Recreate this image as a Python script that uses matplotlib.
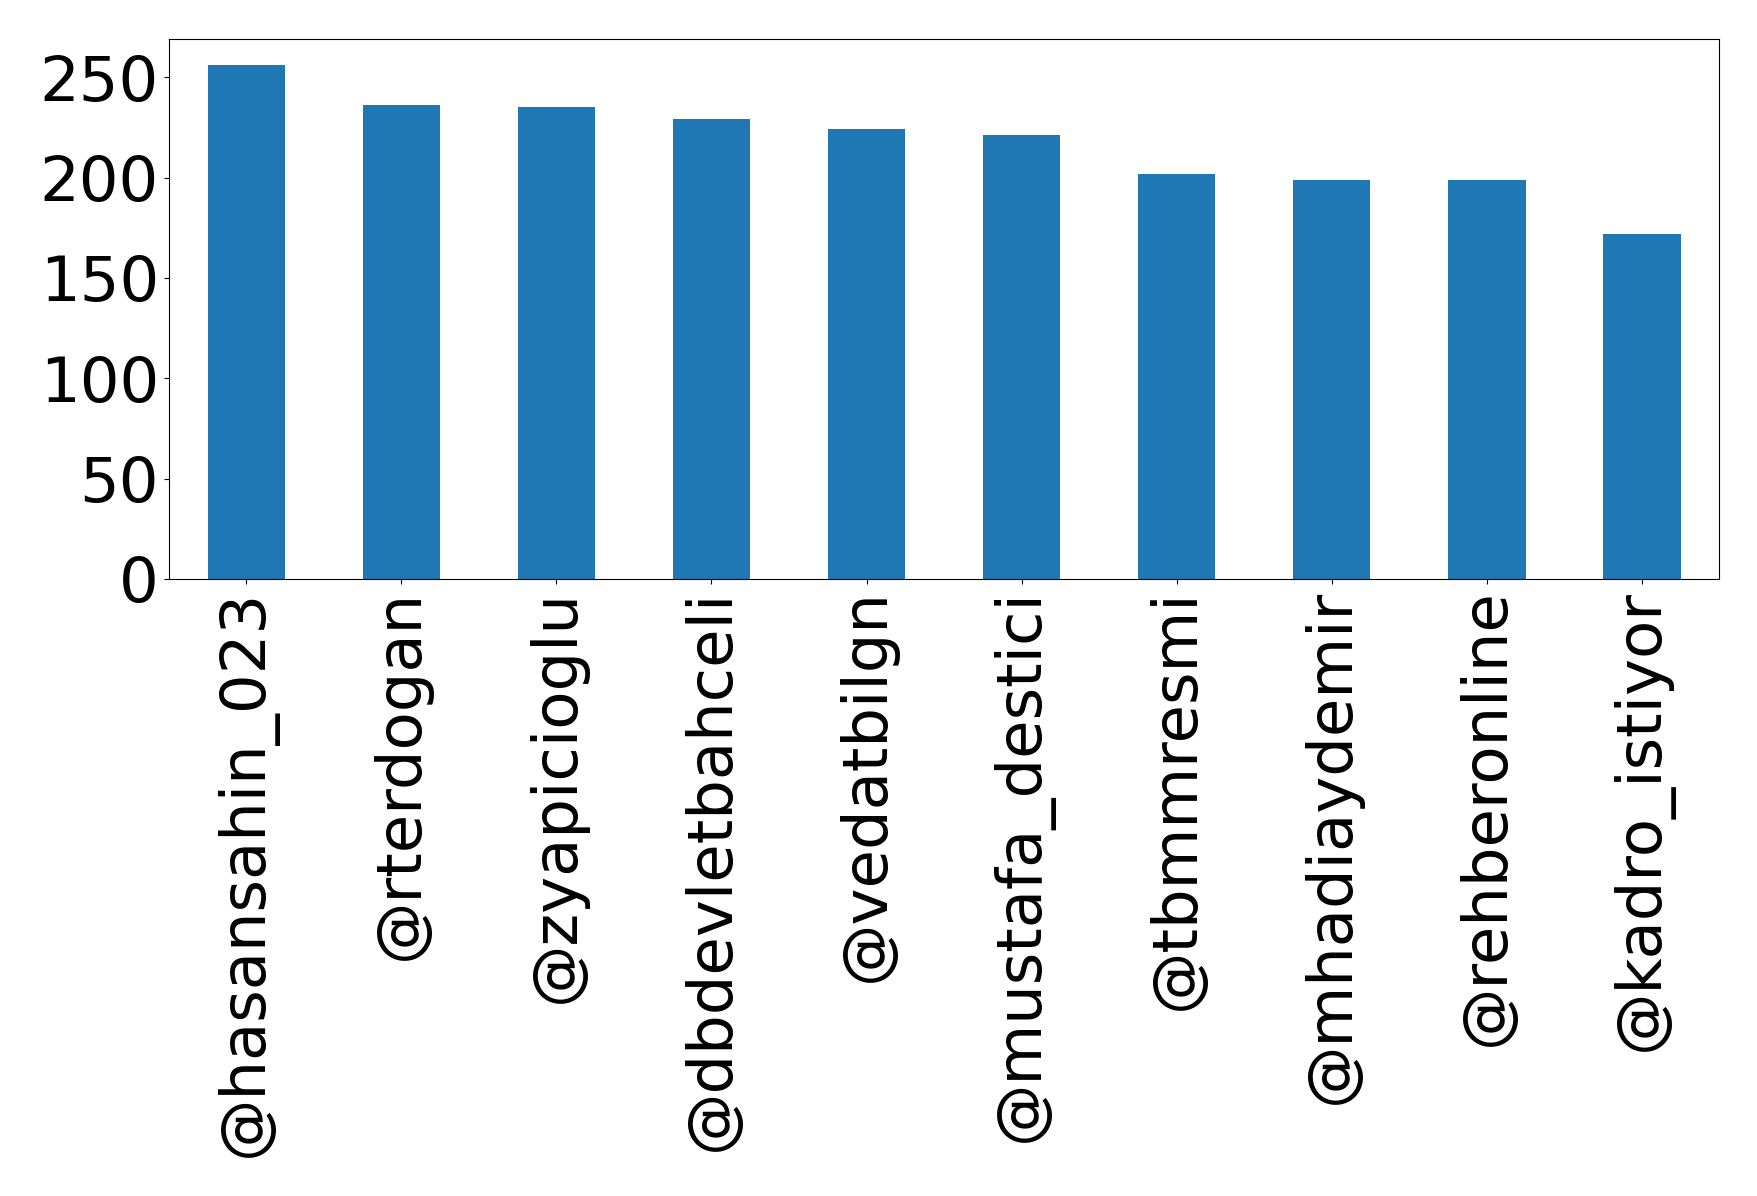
import matplotlib.pyplot as plt
from matplotlib.ticker import MultipleLocator

users = ['@hasansahin_023', '@rterdogan', '@zyapicioglu', '@dbdevletbahceli',
         '@vedatbilgn', '@mustafa_destici', '@tbmmresmi', '@mhadiaydemir',
         '@rehberonline', '@kadro_istiyor']
counts = [256, 236, 235, 229, 224, 221, 202, 199, 199, 172]

fig, ax = plt.subplots(figsize=(17.58, 11.96), dpi=100)
ax.bar(range(len(users)), counts, width=0.5, color='#1f77b4')
ax.set_xticks(range(len(users)))
ax.set_xticklabels(users, rotation=90)
ax.yaxis.set_major_locator(MultipleLocator(50))
ax.tick_params(axis='both', labelsize=45)
ax.set_xlim(-0.5, len(users) - 0.5)

plt.subplots_adjust(left=0.096, right=0.978, top=0.967, bottom=0.516)
plt.savefig('out.png')
